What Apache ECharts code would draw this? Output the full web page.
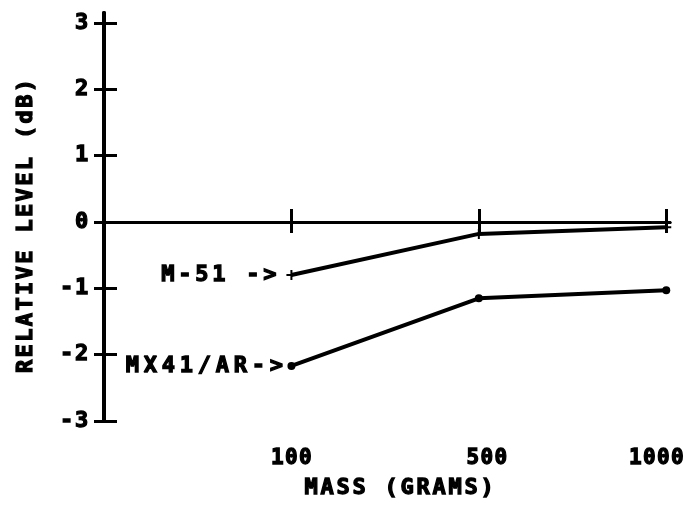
<!DOCTYPE html>
<html>
<head>
<meta charset="utf-8">
<script src="https://cdn.jsdelivr.net/npm/echarts@6/dist/echarts.min.js"></script>
<style>
  html, body { margin: 0; padding: 0; background: #fff; }
  #chart { width: 695px; height: 506px; }
</style>
</head>
<body>
<div id="chart"></div>
<script>
// Mass steps (evenly spaced positions) and their printed labels
const massPositions = [1, 2, 3];
const massLabels = ['100', '500', '1000'];

// Relative level in dB for each probe at each mass
const m51Levels = [-0.8, -0.18, -0.08];
const mx41Levels = [-2.17, -1.15, -1.03];

// Level axis ticks
const levelTicks = [-3, -2, -1, 0, 1, 2, 3];

const seriesNames = ['M-51 ->', 'MX41/AR->'];
const xTitle = 'MASS (GRAMS)';
const yTitle = 'RELATIVE LEVEL (dB)';

const FONT = '"DejaVu Sans Mono", monospace';
const INK = '#000';

// Typewriter-like spacing: each character sits in a fixed-width cell
function mono(text, key) {
  return text.split('').map(c => '{' + key + '|' + c + '}').join('');
}
function cell(size, pitch) {
  return {
    fontFamily: FONT, fontWeight: 'bold', fontSize: size, width: pitch, align: 'center',
    color: INK, textBorderColor: INK, textBorderWidth: 1.3
  };
}
const rich = {
  x: cell(21, 14),
  t: cell(22, 16),
  y: cell(22, 15),
  n: cell(22, 15.6),
  a: cell(22, 17),
  b: cell(22, 18),
  gapL: { width: 16 },
  gapR: { width: 20 }
};

// Mass labels sit slightly off their ticks, as typed on the plot
function massLabel(v) {
  const text = massLabels[massPositions.indexOf(v)];
  const body = mono(text, 'x');
  if (v === massPositions[1]) return '{gapL|}' + body;
  if (v === massPositions[2]) return body + '{gapR|}';
  return body;
}

function pairs(values) {
  return values.map((v, i) => [massPositions[i], v]);
}

const m51Data = pairs(m51Levels);
m51Data[0] = {
  value: m51Data[0],
  label: { show: true, position: 'left', distance: 8, formatter: mono(seriesNames[0], 'a'), rich: rich }
};
const mx41Data = pairs(mx41Levels);
mx41Data[0] = {
  value: mx41Data[0],
  label: { show: true, position: 'left', distance: 2, formatter: mono(seriesNames[1], 'b'), rich: rich }
};

const chart = echarts.init(document.getElementById('chart'), null, { renderer: 'canvas' });

const axisLine = { show: true, onZero: true, lineStyle: { color: INK, width: 3 } };

chart.setOption({
  backgroundColor: '#fff',
  animation: false,
  grid: { left: 104, top: 13, height: 408, width: 566, outerBoundsMode: 'none', containLabel: false },
  xAxis: [
    {
      type: 'value', min: 0, max: 3.02, position: 'bottom',
      axisLine: Object.assign({ onZeroAxisIndex: 0 }, axisLine),
      axisTick: { show: true, length: 11, customValues: massPositions, lineStyle: { color: INK, width: 3 } },
      axisLabel: {
        show: true, margin: 27, customValues: massPositions,
        formatter: massLabel, rich: rich
      },
      splitLine: { show: false },
      name: mono(xTitle, 't'), nameLocation: 'middle', nameGap: 56,
      nameTextStyle: { rich: rich, padding: [0, 0, 0, 24] }
    },
    {
      type: 'value', min: 0, max: 3.02, position: 'top',
      axisLine: Object.assign({ onZeroAxisIndex: 0 }, axisLine),
      axisTick: { show: true, length: 13, customValues: massPositions, lineStyle: { color: INK, width: 3 } },
      axisLabel: { show: false },
      splitLine: { show: false }
    }
  ],
  yAxis: [
    {
      type: 'value', min: -3, max: 3.15, position: 'left',
      axisLine: Object.assign({ onZeroAxisIndex: 0 }, axisLine, { lineStyle: { color: INK, width: 4 } }),
      axisTick: { show: true, length: 10, customValues: levelTicks, lineStyle: { color: INK, width: 3 } },
      axisLabel: {
        show: true, margin: 15, customValues: levelTicks,
        formatter: v => mono(String(v), 'y'), rich: rich
      },
      splitLine: { show: false },
      name: mono(yTitle, 'n'), nameLocation: 'middle', nameGap: 67,
      nameTextStyle: { rich: rich, padding: [0, 18, 0, 0] }
    },
    {
      type: 'value', min: -3, max: 3.15, position: 'right',
      axisLine: Object.assign({ onZeroAxisIndex: 0 }, axisLine, { lineStyle: { color: INK, width: 4 } }),
      axisTick: { show: true, length: 13, customValues: levelTicks, lineStyle: { color: INK, width: 3 } },
      axisLabel: { show: false },
      splitLine: { show: false }
    }
  ],
  series: [
    {
      name: seriesNames[0], type: 'line', xAxisIndex: 0, yAxisIndex: 0,
      data: m51Data,
      symbol: 'path://M0,4H10V6H0Z M4,0H6V10H4Z', symbolSize: 10,
      lineStyle: { color: INK, width: 4 }, itemStyle: { color: INK },
      emphasis: { disabled: true }
    },
    {
      name: seriesNames[1], type: 'line', xAxisIndex: 0, yAxisIndex: 0,
      data: mx41Data,
      symbol: 'circle', symbolSize: 8,
      lineStyle: { color: INK, width: 4 }, itemStyle: { color: INK },
      emphasis: { disabled: true }
    }
  ]
});
</script>
</body>
</html>
